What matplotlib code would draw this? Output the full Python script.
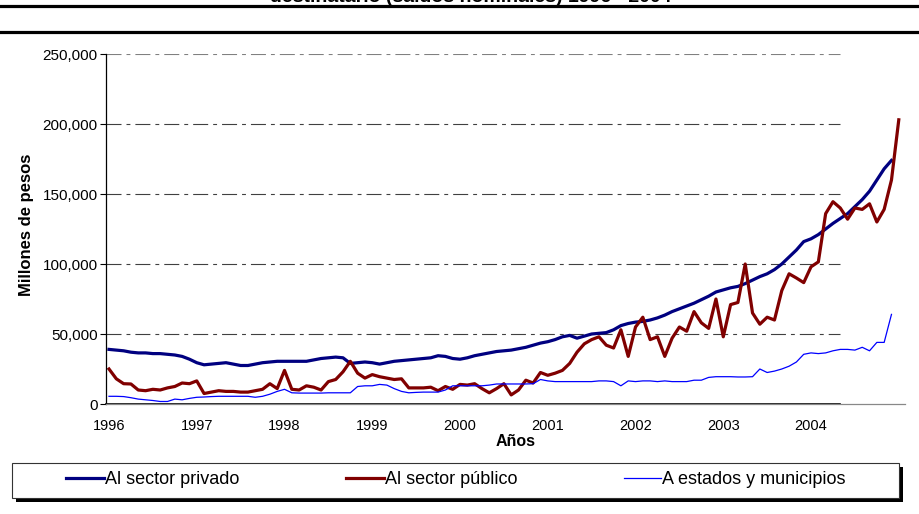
import matplotlib

# 화면 없이 그리기
matplotlib.use('Agg')
import matplotlib.pyplot as plt
import numpy as np
from matplotlib.lines import Line2D
from matplotlib.patches import Rectangle
from matplotlib.ticker import FuncFormatter

plt.rcParams['font.family'] = ['Liberation Sans', 'DejaVu Sans']

# 연도 눈금 (12개월마다)
anios = ['1996', '1997', '1998', '1999', '2000', '2001', '2002', '2003', '2004']

# 월별 잔액, 천 단위 (1996년 1월부터)
privado = [
    39, 38.5, 38, 37, 36.5, 36.5, 36, 36, 35.5, 35, 34, 32,
    29.5, 28, 28.5, 29, 29.5, 28.5, 27.5, 27.5, 28.5, 29.5, 30, 30.5,
    30.5, 30.5, 30.5, 30.5, 31.5, 32.5, 33, 33.5, 33, 29, 29.5, 30,
    29.5, 28.5, 29.5, 30.5, 31, 31.5, 32, 32.5, 33, 34.5, 34, 32.5,
    32, 33, 34.5, 35.5, 36.5, 37.5, 38, 38.5, 39.5, 40.5, 42, 43.5,
    44.5, 46, 48, 49, 47, 48.5, 50, 50.5, 51, 53, 56, 57.5,
    58.5, 59, 60, 61.5, 63.5, 66, 68, 70, 72, 74.5, 77, 80,
    81.5, 83, 84, 86, 88.5, 91, 93, 96, 100, 105, 110, 116,
    118, 121, 125, 129, 132.5, 136, 141, 146, 152, 160, 168, 174,
]
publico = [
    25, 18, 14.5, 14.3, 10, 9.5, 10.5, 10, 11.5, 12.5, 15, 14.5,
    16.5, 7.5, 8.5, 9.5, 9, 9, 8.5, 8.5, 9.5, 10.5, 14.5, 11,
    24, 10.5, 10, 13, 12, 10, 16, 17.5, 23, 30.5, 22, 18.5,
    21, 19.5, 18.5, 17.5, 18, 11.5, 11.5, 11.5, 12, 9.5, 12.5, 10.5,
    14, 13.5, 14.5, 11, 8, 11, 14.5, 6.5, 10, 17, 15, 22.5,
    20.5, 22, 24, 29, 37, 43, 46, 48, 42, 40, 53, 34,
    55, 62, 46, 48, 34, 47, 55, 52, 66, 58, 54, 75,
    48, 71, 72.5, 100, 65, 57, 62, 60, 81, 93, 90, 86.7,
    98, 101.5, 136, 144.5, 140, 132, 140, 139, 143, 130, 139, 160,
    203,
]
estados = [
    5.5, 5.5, 5.3, 4.5, 3.5, 3, 2.5, 1.8, 1.8, 3.5, 3, 4,
    4.8, 5, 5.3, 5.5, 5.5, 5.5, 5.5, 5.5, 4.8, 5.5, 7, 9,
    10.5, 8, 7.8, 7.8, 7.8, 7.8, 8, 8, 8, 8, 12.5, 13,
    13, 14, 13.5, 11, 9, 8, 8.3, 8.5, 8.5, 8.5, 10, 13,
    13, 13, 13, 13, 13.5, 14.3, 14.3, 14.3, 14.3, 14.3, 14.5, 17.5,
    16.5, 16, 16, 16, 16, 16, 16, 16.5, 16.5, 16, 13, 16.5,
    16, 16.5, 16.5, 16, 16.5, 16, 16, 16, 17, 17, 19, 19.5,
    19.5, 19.5, 19.3, 19.3, 19.5, 25, 22.5, 23.5, 25, 27, 30, 35.5,
    36.5, 36, 36.5, 38, 39, 39, 38.5, 40.5, 38, 44, 44, 64,
]

W, H = 920, 514
fig = plt.figure(figsize=(W / 100, H / 100), dpi=100)
ax = fig.add_axes([106 / W, 1 - 404 / H, 799 / W, 350 / H])

# 계열: 민간, 공공, 주·시
ax.plot(np.arange(len(privado)), np.array(privado) * 1000, color='#000080', lw=2.3, label='Al sector privado')
ax.plot(np.arange(len(publico)), np.array(publico) * 1000, color='#800000', lw=2.3, label='Al sector público')
ax.plot(np.arange(len(estados)), np.array(estados) * 1000, color='#0000FF', lw=0.9, label='A estados y municipios')

ax.set_xlim(-0.41, 108.85)
ax.set_ylim(0, 250000)
ax.set_yticks(np.arange(0, 250001, 50000))
ax.yaxis.set_major_formatter(FuncFormatter(lambda v, p: f'{int(v):,}'))
ax.set_xticks(np.arange(len(anios)) * 12)
ax.set_xticklabels(anios)
ax.tick_params(axis='x', length=0, pad=11, labelsize=10.5)
ax.tick_params(axis='y', length=4, width=0.8, direction='out', pad=2, labelsize=11)

# 격자선 (점선-일점쇄선, 오른쪽 끝까지 가지 않음)
for v in ax.get_yticks()[1:]:
    ax.axhline(v, xmin=0, xmax=0.919, color='#808080' if v == 250000 else '#404040',
               lw=0.8, ls=(0, (13.5, 4.5, 3.5, 4.5)), zorder=0)

for s in ['top', 'right']:
    ax.spines[s].set_visible(False)
ax.spines['left'].set_linewidth(0.9)
ax.spines['bottom'].set_color('#888888')
ax.spines['bottom'].set_linewidth(0.9)
ax.axhline(0, xmin=0, xmax=0.919, color='black', lw=1.2, clip_on=False)

ax.set_ylabel('Millones de pesos', fontsize=12, fontweight='bold')
ax.yaxis.set_label_coords(-0.090, 0.511)
ax.set_xlabel('Años', fontsize=11.5, fontweight='bold')
ax.xaxis.set_label_coords((516 - 106) / 799, (404 - 441) / 350)
ax.xaxis.label.set_va('center')

# 제목 (위쪽이 잘린 상태)
fig.text(471 / W, 1 - 2.5 / H, 'destinatario (saldos nominales) 1996 - 2004',
         ha='center', va='baseline', fontsize=14, fontweight='bold')
for yy in [5.8, 32.3]:
    fig.add_artist(Line2D([0, 1], [1 - yy / H] * 2, color='black', lw=2.3, transform=fig.transFigure))

# 범례 상자 + 그림자
fig.add_artist(Rectangle((16 / W, 1 - 501.7 / H), 887 / W, 34.7 / H, transform=fig.transFigure,
                         facecolor='black', edgecolor='black', lw=0))
fig.add_artist(Rectangle((12 / W, 1 - 497.7 / H), 887 / W, 34.7 / H, transform=fig.transFigure,
                         facecolor='white', edgecolor='#333333', lw=0.8))
handles, labels = ax.get_legend_handles_labels()
fig.legend(handles, labels, loc='center left', bbox_to_anchor=(66 / W, 1 - 480 / H), ncol=3,
           frameon=False, borderpad=0, borderaxespad=0, handlelength=2.1, handletextpad=0.05,
           columnspacing=5.9, fontsize=13)

fig.savefig('out.png', dpi=100)
